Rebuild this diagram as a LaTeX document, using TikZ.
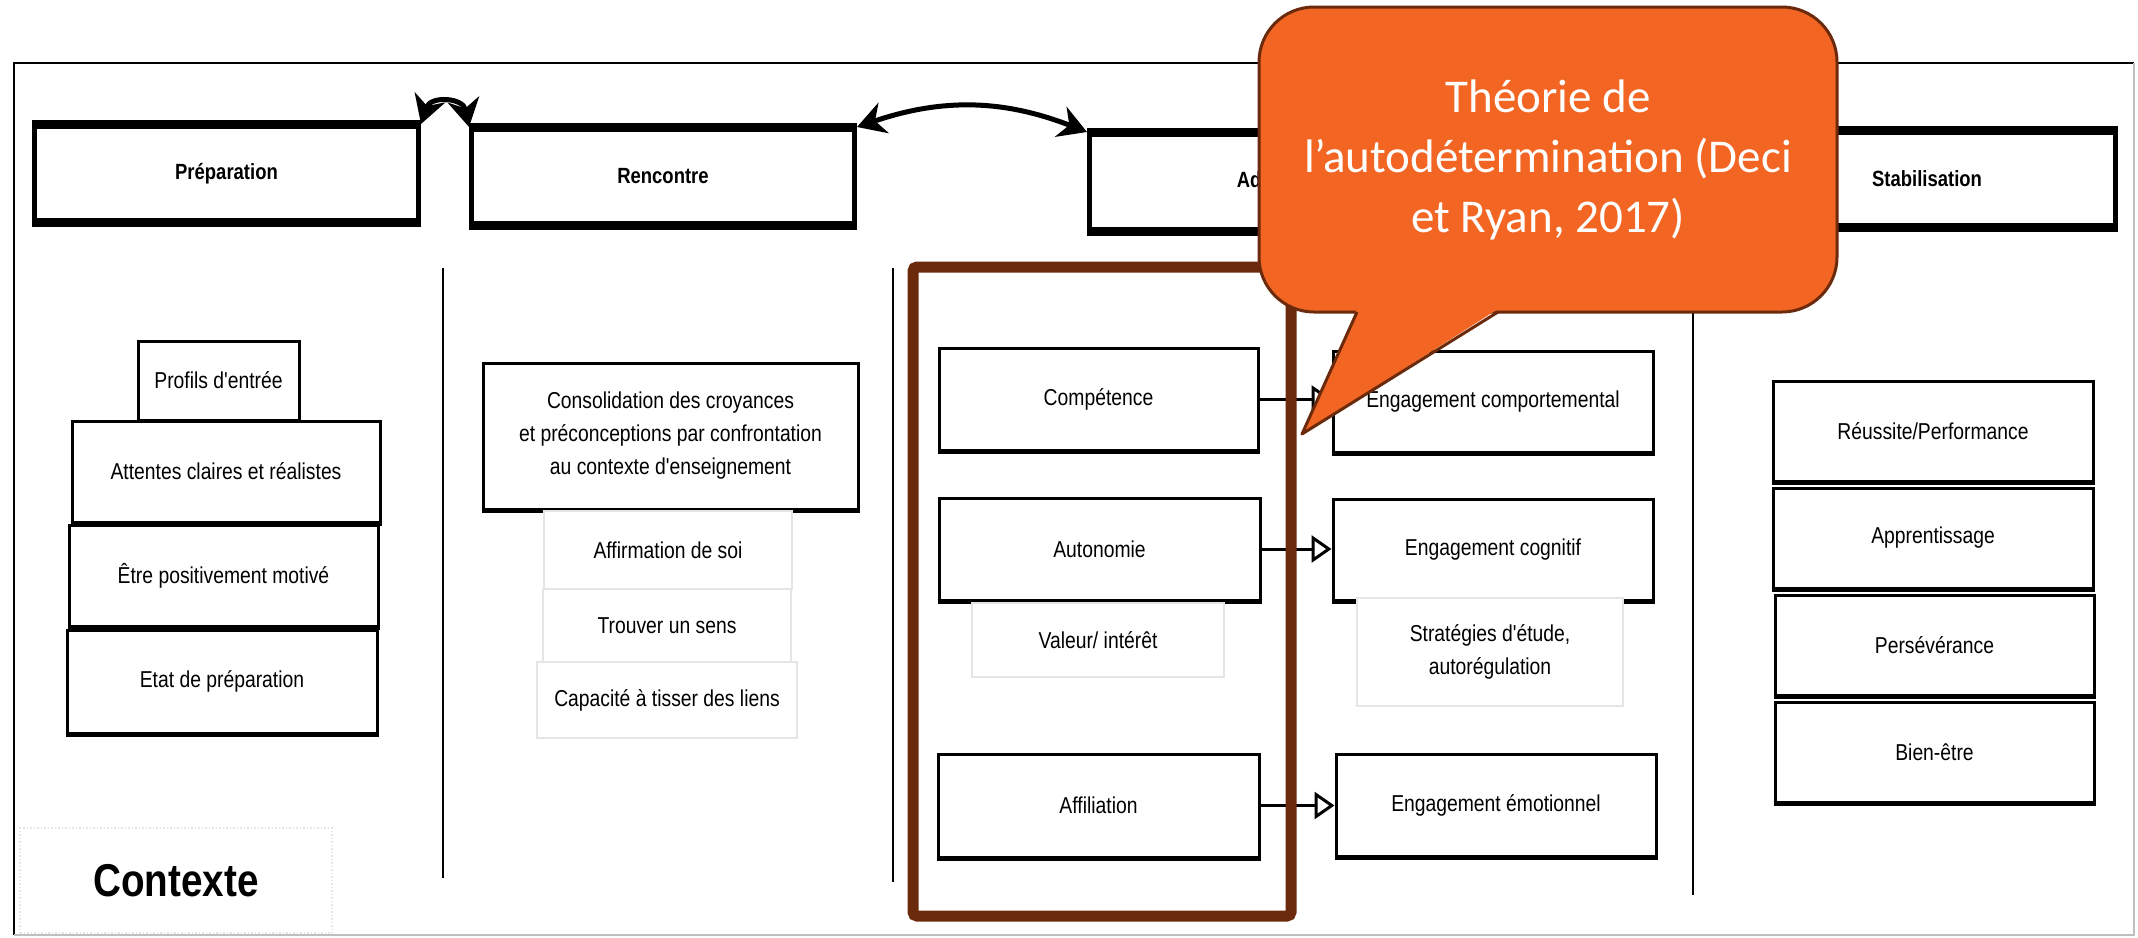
\documentclass[tikz,border=0pt]{standalone}
\usepackage{fontspec}
\newfontfamily\boxfont[FakeStretch=0.84]{Liberation Sans}
\newfontfamily\bubblefont{Carlito}
\usetikzlibrary{arrows.meta}
\definecolor{rust}{HTML}{6B2A0B}
\definecolor{bubble}{HTML}{F26522}

\begin{document}
\begin{tikzpicture}
[x=1pt,y=-1pt,inner sep=0pt,
phase/.style={draw, line width=5pt, fill=white, font=\boxfont\bfseries\fontsize{22}{26}\selectfont,
  append after command={(\tikzlastnode.north west) edge[line width=8pt] (\tikzlastnode.north east)
  (\tikzlastnode.south west) edge[line width=8pt] (\tikzlastnode.south east)}},
item/.style={draw, line width=3pt, fill=white, align=center, font=\boxfont\fontsize{23}{33}\selectfont,
  append after command={(\tikzlastnode.south west) edge[line width=5pt] (\tikzlastnode.south east)}},
faint/.style={draw=black!10, line width=1.5pt, fill=white, align=center, font=\boxfont\fontsize{23}{33}\selectfont},
sz/.style 2 args={minimum width=#1pt, minimum height=#2pt},
flow/.style={-{Triangle[open,length=20pt,width=27pt]}, line width=3pt},
backforth/.style={{Stealth[length=28pt,width=32pt,inset=9pt]}-{Stealth[length=28pt,width=32pt,inset=9pt]}, line width=5pt},
divider/.style={line width=2.5pt},
bubblebody/.style={draw=rust, line width=3pt, fill=bubble, rounded corners=55pt, text=white, align=center,
  font=\bubblefont\fontsize{47}{60}\selectfont}]
\useasboundingbox (0,0) rectangle (2138,937);

% FRAME
\draw[line width=2.5pt] (14,935) -- (14,63) -- (2134,63);
\draw[black!25, line width=1.5pt] (14,935) -- (2134,935) -- (2134,63);

\draw[divider] (443,268) -- (443,878);
\draw[divider] (893,268) -- (893,882);
\draw[divider] (1693,268) -- (1693,895);

% PHASES
\node[phase, sz={384}{94}] (ph1) at (226.5,173.5) {Préparation};
\node[phase, sz={383}{94}] (ph2) at (663,176.5) {Rencontre};
\node[phase, sz={391}{95}] (ph3) at (1285,182) {Adaptation};
\node[phase, sz={377}{93}] (ph4) at (1927,179) {Stabilisation};

\draw[backforth] (ph1.north east) to[bend left=75,looseness=1.6] (ph2.north west);
\draw[backforth] (ph2.north east) to[bend left=20] (ph3.north west);

% COLUMN 1
\node[item, sz={161}{79}] (c11) at (218.5,380.5) {Profils d'entrée};
\node[item, sz={308}{101}] (c12) at (226,471.5) {Attentes claires et réalistes};
\node[item, sz={309}{101}] (c13) at (223.5,575.5) {Être positivement motivé};
\node[item, sz={310}{103}] (c14) at (222,681.5) {Etat de préparation};

\node[faint, dotted, sz={312}{105}, font=\boxfont\bfseries\fontsize{46}{50}\selectfont] (ctx) at (176,880.5) {Contexte};

% COLUMN 2
\node[item, sz={375}{146}] (c21) at (670.5,436) {Consolidation des croyances\\et préconceptions par confrontation\\au contexte d'enseignement};
\node[faint, sz={248}{78}] (c22) at (668,550) {Affirmation de soi};
\node[faint, sz={248}{73}] (c23) at (667,625.5) {Trouver un sens};
\node[faint, sz={260}{76}] (c24) at (667,700) {Capacité à tisser des liens};

% COLUMN 3
\node[item, sz={319}{102}] (c31) at (1098.5,399) {Compétence};
\node[item, sz={321}{102}] (c32) at (1099.5,549) {Autonomie};
\node[faint, sz={252}{74}] (c33) at (1098,640) {Valeur/ intérêt};
\node[item, sz={321}{103}] (c34) at (1098.5,805.5) {Affiliation};

% COLUMN 4
\node[item, sz={320}{101}] (c41) at (1493,401.5) {Engagement comportemental};
\node[item, sz={320}{101}] (c42) at (1493,549.5) {Engagement cognitif};
\node[faint, sz={266}{108}] (c43) at (1490,652) {Stratégies d'étude,\\autorégulation};
\node[item, sz={320}{102}] (c44) at (1496,805) {Engagement émotionnel};

\draw[flow] (c31.east) -- (c31.east -| c41.west);
\draw[flow] (c32.east) -- (c32.east -| c42.west);
\draw[flow] (c34.east) -- (c34.east -| c44.west);

% COLUMN 5
\node[item, sz={320}{100}] (c51) at (1933,431) {Réussite/Performance};
\node[item, sz={320}{100}] (c52) at (1933,538) {Apprentissage};
\node[item, sz={319}{100}] (c53) at (1934.5,645) {Persévérance};
\node[item, sz={319}{100}] (c54) at (1934.5,752) {Bien-être};

% HIGHLIGHT
\draw[rust, line width=11pt, rounded corners=4pt] (913,267) rectangle (1291,916);

\node[bubblebody, sz={578}{305}] (theo) at (1548,159.5) {Théorie de\\l’autodétermination (Deci\\et Ryan, 2017)};
\fill[bubble] (1357,309) -- (1302,434) -- (1498,309) -- cycle;
\draw[rust, line width=3pt, line join=round] (1357,312) -- (1302,434) -- (1498,312);
\end{tikzpicture}
\end{document}
